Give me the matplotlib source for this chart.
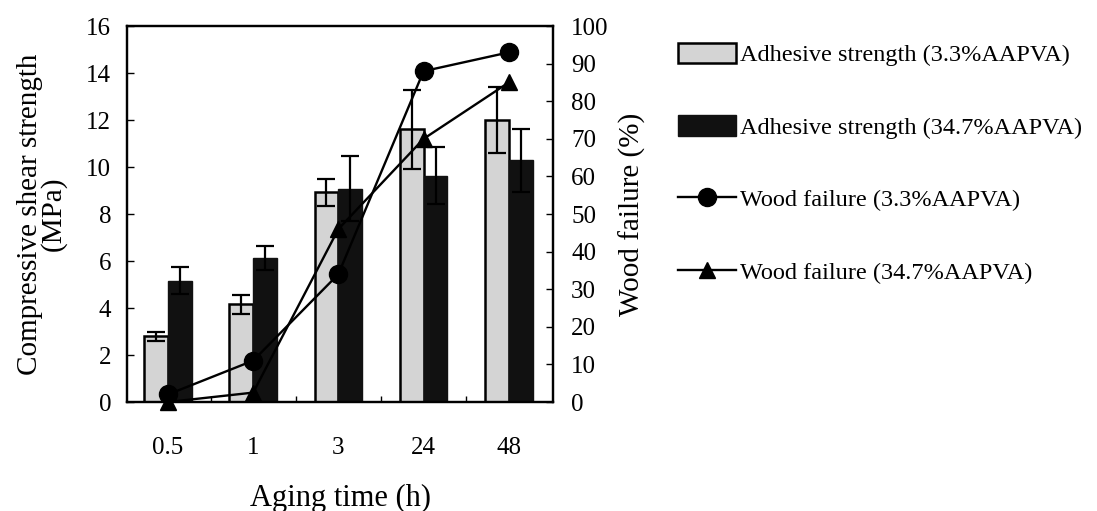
import numpy as np
import matplotlib
matplotlib.use("Agg")
import matplotlib.pyplot as plt
from matplotlib.ticker import FixedLocator

plt.rcParams['font.family'] = ['Liberation Serif', 'DejaVu Serif']
plt.rcParams['mathtext.fontset'] = 'stix'

# data
aging_time = ['0.5', '1', '3', '24', '48']
strength_low = [2.8, 4.15, 8.93, 11.6, 12.0]       # 3.3% AAPVA, MPa
strength_low_err = [0.2, 0.42, 0.58, 1.7, 1.4]
strength_high = [5.16, 6.13, 9.08, 9.63, 10.28]    # 34.7% AAPVA, MPa
strength_high_err = [0.57, 0.5, 1.38, 1.22, 1.35]
wood_low = [2, 11, 34, 88, 93]                     # %
wood_high = [0, 2.5, 46, 70, 85]                   # %

fig = plt.figure(figsize=(10.97, 5.11), dpi=100)
ax = fig.add_axes([0.1158, 0.2133, 0.3884, 0.7357])

x = np.arange(len(aging_time))
w = 0.28

ax.bar(x - w / 2, strength_low, w, color='#d4d4d4', edgecolor='black',
       linewidth=1.8, label='Adhesive strength (3.3%AAPVA)', zorder=2)
ax.errorbar(x - w / 2, strength_low, yerr=strength_low_err, fmt='none',
            ecolor='black', elinewidth=1.6, capsize=6.5, capthick=1.6, zorder=3)
ax.bar(x + w / 2, strength_high, w, color='#111111', edgecolor='#111111',
       linewidth=1.0, label='Adhesive strength (34.7%AAPVA)', zorder=2)
ax.errorbar(x + w / 2, strength_high, yerr=strength_high_err, fmt='none',
            ecolor='black', elinewidth=1.6, capsize=6.5, capthick=1.6, zorder=3)

ax.set_xlim(-0.48, 4.52)
ax.set_ylim(0, 16)
ax.set_yticks(np.arange(0, 17, 2))
ax.set_xticks(x)
ax.set_xticklabels(aging_time)
ax.xaxis.set_minor_locator(FixedLocator([0.5, 1.5, 2.5, 3.5]))
ax.tick_params(axis='x', which='major', length=0, pad=25, labelsize=18)
ax.tick_params(axis='x', which='minor', direction='in', length=4, width=1)
ax.tick_params(axis='y', direction='in', length=5, width=1, labelsize=18, pad=11.5)
ax.set_xlabel('Aging time (h)', fontsize=22, labelpad=18)
ax.set_ylabel('Compressive shear strength\n(MPa)', fontsize=21,
              linespacing=0.85, labelpad=14)
for s in ax.spines.values():
    s.set_linewidth(1.6)

ax2 = ax.twinx()
ax2.plot(x, wood_low, color='black', lw=1.7, marker='o', markersize=13,
         label='Wood failure (3.3%AAPVA)', clip_on=False, zorder=4)
ax2.plot(x, wood_high, color='black', lw=1.7, marker='^', markersize=12,
         label='Wood failure (34.7%AAPVA)', clip_on=False, zorder=4)
ax2.set_ylim(0, 100)
ax2.set_yticks(np.arange(0, 101, 10))
ax2.tick_params(axis='y', direction='in', length=5, width=1, labelsize=18, pad=13)
ax2.set_ylabel('Wood failure (%)', fontsize=21, labelpad=7)
for s in ax2.spines.values():
    s.set_linewidth(1.6)

h1, l1 = ax.get_legend_handles_labels()
h2, l2 = ax2.get_legend_handles_labels()
fig.legend(h1 + h2, l1 + l2, loc='upper left', bbox_to_anchor=(0.598, 0.959),
           frameon=False, fontsize=17.5, handlelength=2.4, handleheight=0.9,
           handletextpad=0.15, labelspacing=2.02)

fig.savefig('out.png', dpi=100)
